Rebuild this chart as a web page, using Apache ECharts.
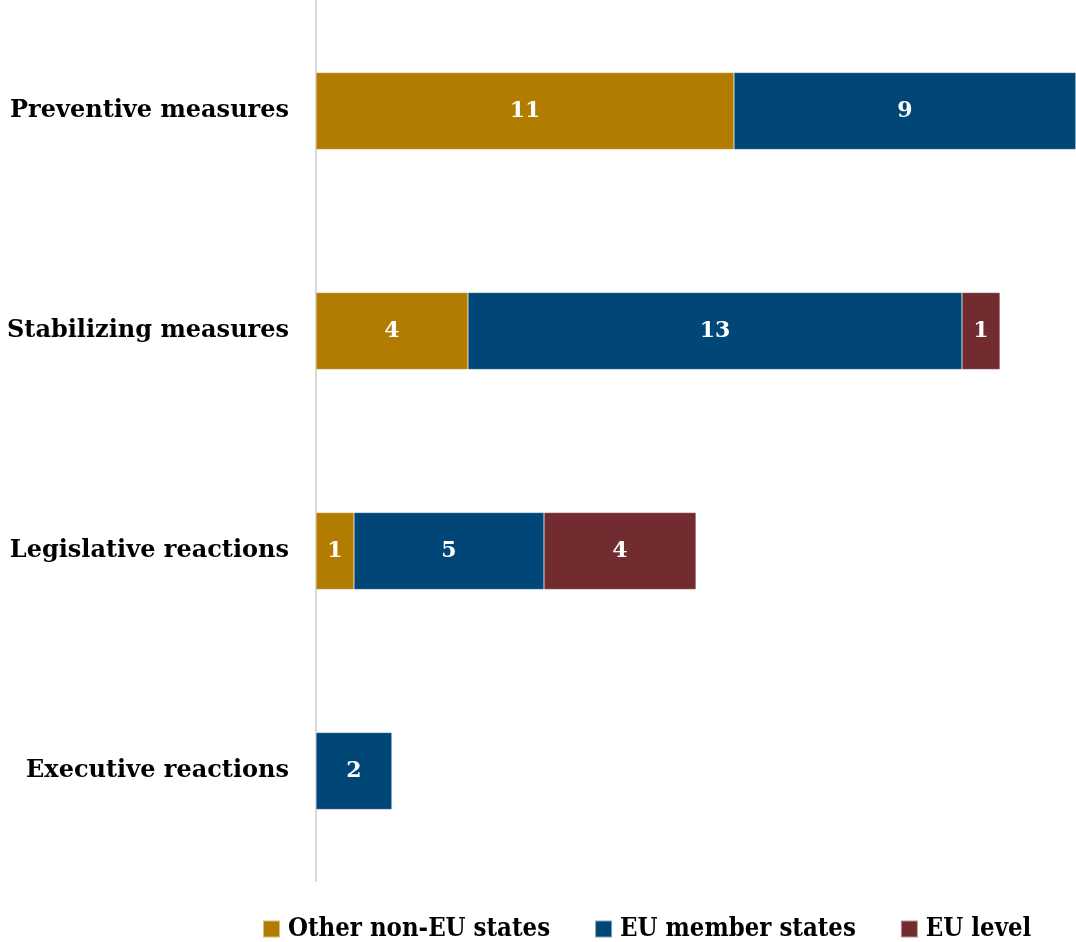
<!DOCTYPE html>
<html>
<head>
<meta charset="utf-8">
<style>
  html, body { margin: 0; padding: 0; background: #ffffff; }
  #chart { width: 1076px; height: 942px; }
</style>
<script src="https://cdn.jsdelivr.net/npm/echarts@6/dist/echarts.min.js"></script>
</head>
<body>
<div id="chart"></div>
<script>
// Measure types, listed top to bottom
const categories = ['Preventive measures', 'Stabilizing measures', 'Legislative reactions', 'Executive reactions'];
// Counts per actor group
const otherNonEU = [11, 4, 1, 0];
const euMembers = [9, 13, 5, 2];
const euLevel = [0, 1, 4, 0];
const seriesNames = ['Other non-EU states', 'EU member states', 'EU level'];
const colors = ['#B27C00', '#004677', '#722B2E'];

const serif = '"DejaVu Serif", "Liberation Serif", serif';

function barSeries(name, data, color) {
  return {
    name: name,
    type: 'bar',
    stack: 'total',
    barWidth: 77,
    data: data,
    itemStyle: { color: color, borderColor: 'rgba(255,255,255,0.5)', borderWidth: 0.5 },
    label: {
      show: true,
      position: 'inside',
      color: '#ffffff',
      fontFamily: serif,
      fontWeight: 'bold',
      fontSize: 22,
      formatter: p => (p.value > 0 ? String(p.value) : '')
    }
  };
}

const chart = echarts.init(document.getElementById('chart'));
chart.setOption({
  animation: false,
  backgroundColor: '#ffffff',
  grid: { left: 316, right: 0, top: 1, height: 880, containLabel: false },
  xAxis: {
    type: 'value',
    min: 0,
    max: 20,
    show: false
  },
  yAxis: {
    type: 'category',
    inverse: true,
    data: categories,
    axisLine: { show: true, lineStyle: { color: '#d9d9d9', width: 2 } },
    axisTick: { show: false },
    axisLabel: {
      margin: 27,
      color: '#000000',
      fontFamily: serif,
      fontWeight: 'bold',
      fontSize: 24
    }
  },
  legend: {
    top: 916,
    left: 262,
    width: 810,
    padding: 0,
    itemWidth: 17,
    itemHeight: 17,
    itemGap: 44,
    icon: 'rect',
    textStyle: {
      color: '#000000',
      fontFamily: '"DejaVu Serif Condensed", "DejaVu Serif", serif',
      fontWeight: 'bold',
      fontSize: 25.5,
      padding: [0, 0, 0, 3]
    },
    data: seriesNames
  },
  series: [
    barSeries(seriesNames[0], otherNonEU, colors[0]),
    barSeries(seriesNames[1], euMembers, colors[1]),
    barSeries(seriesNames[2], euLevel, colors[2])
  ]
});
</script>
</body>
</html>
